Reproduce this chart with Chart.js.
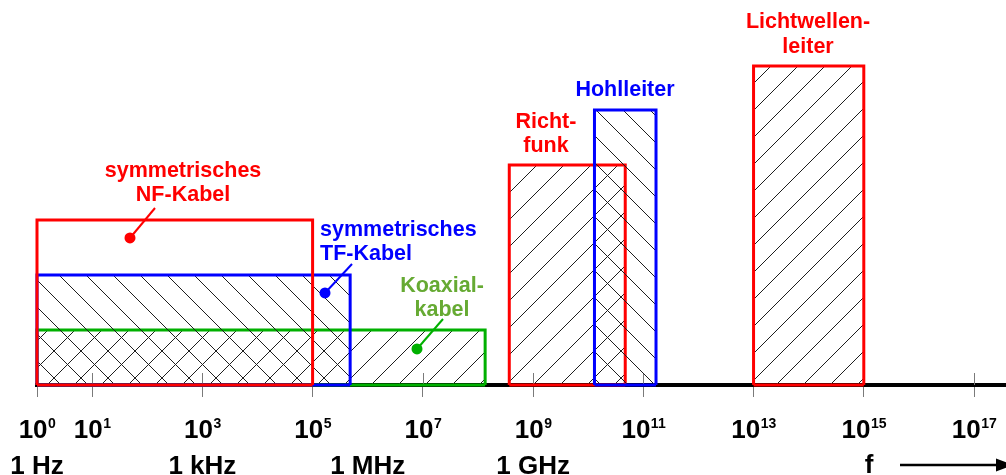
<!DOCTYPE html>
<html>
<head>
<meta charset="utf-8">
<script src="https://cdn.jsdelivr.net/npm/chart.js@4/dist/chart.umd.min.js"></script>
<style>
html,body{margin:0;padding:0;background:#ffffff;}
#wrap{width:1006px;height:475px;position:relative;}
</style>
</head>
<body>
<div id="wrap"><canvas id="c"></canvas></div>
<script>
// ---- data ----
const categories = ['symmetrisches NF-Kabel', 'symmetrisches TF-Kabel', 'Koaxialkabel', 'Richtfunk', 'Hohlleiter', 'Lichtwellenleiter'];
const freqLow  = [1, 1, 1, 3.7e8, 1.3e10, 1e13];          // Hz
const freqHigh = [1e5, 4.8e5, 1.35e8, 4.7e10, 1.7e11, 1e15]; // Hz
const barHeight = [3, 2, 1, 4, 5, 5.8];
const tickExponents = [0, 1, 3, 5, 7, 9, 11, 13, 15, 17];
const unitLabels = ['1 Hz', '1 kHz', '1 MHz', '1 GHz'];
const unitExponents = [0, 3, 6, 9];
const axisLabel = 'f';

// ---- styles ----
const RED = '#ff0000', BLUE = '#0000ff', GREEN = '#00b000', GREEN_TXT = '#66aa33';
const rectColors = [RED, BLUE, GREEN, RED, BLUE, RED];
const hatchTypes = ['none', '\\', '/', '/', '\\', '/'];
const layer = [0, 1, 2, 4, 3, 5]; // 0 = top
const FONT = '"Liberation Sans", Arial, Helvetica, sans-serif';

const canvas = document.getElementById('c');
const ctx0 = canvas.getContext('2d');

function makeHatch(dir) {
  const s = 27;
  const c = document.createElement('canvas');
  c.width = s; c.height = s;
  const g = c.getContext('2d');
  g.strokeStyle = '#1e1e1e';
  g.lineWidth = 1;
  g.beginPath();
  if (dir === '/') {
    for (let k = 0; k <= 2; k++) { g.moveTo(-1, k * s + 1); g.lineTo(s + 1, k * s - s - 1); }
  } else {
    for (let k = -1; k <= 1; k++) { g.moveTo(-1, k * s - 1); g.lineTo(s + 1, k * s + s + 1); }
  }
  g.stroke();
  return ctx0.createPattern(c, 'repeat');
}

const datasets = [];
categories.forEach((name, i) => {
  const hatched = hatchTypes[i] !== 'none';
  datasets.push({
    type: 'line',
    label: name,
    data: [
      {x: freqLow[i], y: 0},
      {x: freqLow[i], y: barHeight[i]},
      {x: freqHigh[i], y: barHeight[i]},
      {x: freqHigh[i], y: 0}
    ],
    borderColor: rectColors[i],
    borderWidth: 3,
    borderJoinStyle: 'miter',
    backgroundColor: hatched ? makeHatch(hatchTypes[i]) : 'rgba(0,0,0,0)',
    fill: hatched ? 'origin' : false,
    pointRadius: 0,
    tension: 0,
    clip: false,
    order: layer[i] * 2 + 1
  });
  datasets.push({
    type: 'line',
    label: name + ' (base)',
    data: [{x: freqLow[i], y: 0}, {x: freqHigh[i], y: 0}],
    borderColor: rectColors[i],
    borderWidth: 3,
    pointRadius: 0,
    fill: false,
    clip: false,
    order: layer[i] * 2
  });
});

// annotation texts (positions in data units: exponent of f, height)
const notes = [
  {lines: ['symmetrisches', 'NF-Kabel'], exp: 2.649, ys: [3.782, 3.345], align: 'center', color: RED, ptr: [2.141, 3.218, 1.687, 2.673]},
  {lines: ['symmetrisches', 'TF-Kabel'], exp: 5.135, ys: [2.709, 2.273], align: 'left', color: BLUE, ptr: [5.715, 2.2, 5.225, 1.673]},
  {lines: ['Koaxial-', 'kabel'], exp: 7.348, ys: [1.691, 1.255], align: 'center', color: GREEN_TXT, ptrColor: GREEN, ptr: [7.366, 1.2, 6.894, 0.655]},
  {lines: ['Richt-', 'funk'], exp: 9.234, ys: [4.673, 4.236], align: 'center', color: RED},
  {lines: ['Hohlleiter'], exp: 10.668, ys: [5.255], align: 'center', color: BLUE},
  {lines: ['Lichtwellen-', 'leiter'], exp: 13.988, ys: [6.491, 6.036], align: 'center', color: RED}
];

const decorPlugin = {
  id: 'decor',
  beforeDatasetsDraw(chart) {
    const ctx = chart.ctx, xs = chart.scales.x, b = chart.chartArea.bottom;
    ctx.save();
    ctx.strokeStyle = '#7a7a7a';
    ctx.lineWidth = 1;
    tickExponents.forEach(e => {
      const x = Math.round(xs.getPixelForValue(Math.pow(10, e))) + 0.5;
      ctx.beginPath(); ctx.moveTo(x, b - 12); ctx.lineTo(x, b); ctx.stroke();
    });
    ctx.restore();
  },
  afterDatasetsDraw(chart) {
    const ctx = chart.ctx, xs = chart.scales.x, ys = chart.scales.y;
    const px = e => xs.getPixelForValue(Math.pow(10, e));
    ctx.save();
    ctx.font = 'bold 21.5px ' + FONT;
    ctx.textBaseline = 'alphabetic';
    notes.forEach(n => {
      ctx.fillStyle = n.color;
      ctx.textAlign = n.align;
      n.lines.forEach((t, k) => ctx.fillText(t, px(n.exp), ys.getPixelForValue(n.ys[k])));
      if (n.ptr) {
        const c = n.ptrColor || n.color;
        const x1 = px(n.ptr[0]), y1 = ys.getPixelForValue(n.ptr[1]);
        const x2 = px(n.ptr[2]), y2 = ys.getPixelForValue(n.ptr[3]);
        ctx.strokeStyle = c; ctx.lineWidth = 2;
        ctx.beginPath(); ctx.moveTo(x1, y1); ctx.lineTo(x2, y2); ctx.stroke();
        ctx.fillStyle = c;
        ctx.beginPath(); ctx.arc(x2, y2, 5.5, 0, Math.PI * 2); ctx.fill();
      }
    });
    ctx.restore();
  },
  afterDraw(chart) {
    const ctx = chart.ctx, xs = chart.scales.x, b = chart.chartArea.bottom;
    const px = e => xs.getPixelForValue(Math.pow(10, e));
    ctx.save();
    ctx.fillStyle = '#000';
    ctx.textBaseline = 'alphabetic';
    ctx.textAlign = 'left';
    const baseFont = 'bold 26px ' + FONT, supFont = 'bold 14px ' + FONT;
    tickExponents.forEach(e => {
      ctx.font = baseFont; const w1 = ctx.measureText('10').width;
      ctx.font = supFont; const w2 = ctx.measureText(String(e)).width;
      const x0 = px(e) - (w1 + w2) / 2;
      ctx.font = baseFont; ctx.fillText('10', x0, b + 53);
      ctx.font = supFont; ctx.fillText(String(e), x0 + w1 + 0.5, b + 43);
    });
    ctx.font = baseFont;
    ctx.textAlign = 'center';
    unitExponents.forEach((e, i) => ctx.fillText(unitLabels[i], px(e), b + 89));
    ctx.fillText(axisLabel, px(15.094), b + 88);
    // arrow
    const ay = b + 80;
    ctx.strokeStyle = '#000'; ctx.lineWidth = 2.5;
    ctx.beginPath(); ctx.moveTo(900, ay); ctx.lineTo(1000, ay); ctx.stroke();
    ctx.beginPath(); ctx.moveTo(996, ay - 6.5); ctx.lineTo(1013, ay); ctx.lineTo(996, ay + 6.5); ctx.closePath(); ctx.fill();
    ctx.restore();
  }
};

new Chart(canvas, {
  type: 'line',
  data: {datasets},
  options: {
    responsive: true,
    maintainAspectRatio: false,
    animation: false,
    events: [],
    layout: {padding: {left: 37, right: 0, top: 0, bottom: 0}},
    plugins: {legend: {display: false}, tooltip: {enabled: false}},
    scales: {
      x: {
        type: 'logarithmic',
        min: 1,
        max: Math.pow(10, 17.58),
        afterBuildTicks: s => { s.ticks = tickExponents.map(e => ({value: Math.pow(10, e)})); },
        afterFit: s => { s.height = 90; },
        ticks: {display: false},
        grid: {display: true, drawOnChartArea: false, drawTicks: true, tickLength: 12, color: '#7a7a7a', lineWidth: 1},
        border: {display: true, color: '#000000', width: 4}
      },
      y: {
        type: 'linear',
        display: false,
        min: 0,
        max: 7
      }
    }
  },
  plugins: [decorPlugin]
});
</script>
</body>
</html>
